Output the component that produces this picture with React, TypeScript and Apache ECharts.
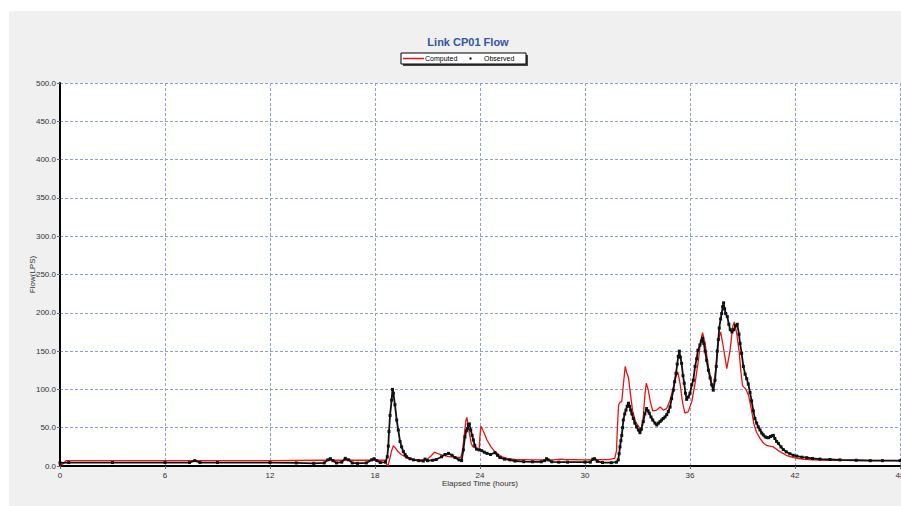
import { useEffect, useRef } from "react";
import * as echarts from "echarts";

const chartTitle = "Link CP01 Flow";
const seriesNames = ["Computed", "Observed"];
const xAxisTitle = "Elapsed Time (hours)";
const yAxisTitle = "Flow(LPS)";
const xRange = [0, 48, 6];
const yRange = [0, 500, 50];

// [elapsed hours, flow LPS]
const computedFlow: number[][] = [
  [0, 1], [0.2, 3], [0.35, 7], [6, 7], [12, 7], [15, 7.5], [18.6, 7.5], [18.65, 3], [18.72, 0], [18.75, 1],
  [18.85, 10], [18.95, 20], [19.05, 26.5], [19.15, 24], [19.3, 19], [19.5, 15], [19.65, 13], [19.8, 10.5], [20.0, 9], [20.3, 8],
  [20.8, 8], [21.0, 9], [21.2, 13], [21.4, 18], [21.6, 16], [21.9, 14], [22.3, 12], [22.6, 11.5], [22.9, 11], [23.0, 20],
  [23.1, 40], [23.2, 60], [23.25, 63.5], [23.3, 56], [23.4, 42], [23.5, 29], [23.6, 25], [23.8, 23], [23.95, 21], [24.0, 40],
  [24.05, 52], [24.2, 45], [24.4, 34], [24.6, 26], [24.8, 20], [25.0, 16], [25.3, 11.5], [25.6, 9.5], [26, 8.5], [27, 8],
  [28.2, 8], [28.6, 9], [28.8, 8.5], [30, 8], [31.4, 8.5], [31.7, 10], [31.8, 20], [31.85, 50], [31.92, 80], [32.0, 83],
  [32.1, 84], [32.2, 108], [32.3, 130], [32.38, 122], [32.48, 116], [32.57, 99], [32.72, 72], [32.9, 57], [33.05, 52], [33.2, 47],
  [33.33, 64], [33.42, 92], [33.5, 108], [33.62, 99], [33.72, 85], [33.87, 72], [34.1, 73], [34.3, 77], [34.47, 73], [34.67, 75],
  [34.86, 86], [35.05, 103], [35.2, 117], [35.3, 123], [35.43, 108], [35.58, 82], [35.71, 69], [35.9, 71], [36.1, 84], [36.29, 108],
  [36.48, 138], [36.61, 164], [36.72, 174], [36.86, 160], [37.05, 130], [37.24, 108], [37.33, 99], [37.49, 130], [37.62, 164], [37.75, 175],
  [37.9, 156], [38.1, 127], [38.29, 151], [38.44, 182], [38.53, 188], [38.67, 173], [38.82, 147], [38.9, 125], [39.0, 105], [39.2, 100],
  [39.35, 92], [39.5, 75], [39.65, 55], [39.8, 44], [40.0, 36], [40.2, 30], [40.4, 26.5], [40.76, 25], [41.14, 18.7], [41.5, 14],
  [41.9, 11], [42.5, 8.7], [43, 8], [44, 7.5], [48, 7]
];

const observedFlow: number[][] = [
  [0, 4], [0.5, 4.5], [3, 4.5], [6, 4.5], [7.4, 4.5], [7.7, 7], [8.0, 4.5], [9, 4.5], [12, 4.5], [13.5, 4],
  [14.5, 3.5], [15.1, 4], [15.3, 8], [15.45, 9.5], [15.6, 7], [15.8, 4], [16.1, 5], [16.3, 10], [16.5, 8], [16.7, 4],
  [17, 3.5], [17.5, 4], [17.8, 8], [17.95, 9.5], [18.1, 7], [18.3, 4.5], [18.6, 5], [18.7, 12], [18.76, 26], [18.8, 45],
  [18.86, 66], [18.95, 86], [19.0, 100], [19.05, 95], [19.14, 80], [19.24, 60], [19.33, 47], [19.43, 32], [19.52, 25], [19.62, 19],
  [19.72, 15], [19.81, 12], [20.0, 9.5], [20.2, 8], [20.5, 7], [20.76, 6.5], [20.86, 9], [21.0, 7], [21.3, 7.5], [21.5, 8.5],
  [21.8, 12], [22.0, 15], [22.2, 16.5], [22.4, 14], [22.57, 11], [22.8, 8], [22.95, 7], [23.05, 21], [23.14, 38], [23.22, 46],
  [23.28, 49], [23.33, 54], [23.39, 55], [23.47, 47], [23.55, 40], [23.62, 34], [23.7, 27], [23.8, 22], [23.95, 21], [24.1, 20],
  [24.25, 18], [24.4, 16.5], [24.6, 15], [24.86, 17.4], [25.0, 14], [25.14, 11], [25.4, 9], [25.7, 8], [26.0, 6.5], [26.5, 5.6],
  [27.0, 5.5], [27.5, 5.5], [27.7, 7], [27.8, 9.5], [27.9, 8], [28.1, 5.5], [28.5, 5], [29, 5], [30, 5], [30.3, 5],
  [30.45, 9], [30.55, 9.5], [30.7, 6], [31, 4.5], [31.5, 4.3], [31.8, 5], [31.9, 8], [31.95, 16], [32.0, 25], [32.05, 33],
  [32.1, 40], [32.15, 50], [32.19, 60], [32.27, 68], [32.34, 73], [32.41, 78], [32.48, 82], [32.55, 78], [32.61, 73], [32.68, 68],
  [32.76, 62], [32.85, 56], [32.95, 51], [33.05, 47], [33.14, 43.5], [33.22, 48], [33.33, 58], [33.42, 68], [33.52, 75], [33.6, 72],
  [33.67, 69], [33.77, 64], [33.87, 60], [34.0, 56], [34.1, 53.5], [34.2, 56], [34.29, 58], [34.38, 60], [34.47, 62], [34.57, 64],
  [34.67, 67], [34.76, 71], [34.86, 77], [34.95, 88], [35.05, 99], [35.12, 110], [35.2, 121], [35.27, 133], [35.33, 143], [35.39, 150],
  [35.45, 142], [35.52, 134], [35.6, 118], [35.67, 108], [35.74, 95], [35.81, 87], [35.9, 90], [36.0, 95], [36.1, 106], [36.19, 112],
  [36.29, 130], [36.38, 140], [36.45, 151], [36.57, 158], [36.65, 163], [36.72, 167], [36.79, 160], [36.86, 150], [36.95, 138], [37.05, 125],
  [37.15, 115], [37.24, 106], [37.33, 99], [37.43, 112], [37.5, 130], [37.56, 150], [37.62, 165], [37.67, 180], [37.75, 192], [37.81, 199],
  [37.87, 208], [37.92, 213], [37.98, 205], [38.04, 199], [38.13, 195], [38.22, 185], [38.3, 178], [38.4, 175], [38.5, 178], [38.6, 183],
  [38.7, 185], [38.8, 172], [38.86, 160], [38.95, 147], [39.05, 130], [39.15, 120], [39.24, 114], [39.33, 107], [39.43, 96], [39.52, 85],
  [39.62, 72], [39.71, 62], [39.81, 56], [39.9, 51], [40.0, 47], [40.1, 43], [40.19, 40.5], [40.3, 38], [40.4, 37], [40.5, 37],
  [40.6, 38.5], [40.7, 39.5], [40.76, 40], [40.85, 36], [40.95, 32], [41.05, 29.5], [41.2, 25], [41.33, 21.5], [41.5, 18.5], [41.71, 16],
  [41.9, 14], [42.1, 13], [42.4, 11.5], [42.67, 10.8], [43.0, 9.8], [43.43, 9], [44.0, 8.5], [44.57, 8], [45.5, 7.5], [46.3, 7],
  [47, 7], [48, 7]
];

const FONT = "'Liberation Sans', Arial, sans-serif";

export default function App() {
  const ref = useRef<HTMLDivElement>(null);
  useEffect(() => {
    document.body.style.margin = "0";
    document.body.style.overflow = "hidden";
    const chart = echarts.init(ref.current!, null, { renderer: "svg", width: 901, height: 506 });
    chart.setOption({
      animation: false,
      backgroundColor: "#ffffff",
      textStyle: { fontFamily: FONT },
      title: {
        text: chartTitle,
        left: 463,
        top: 31,
        textAlign: "center",
        textStyle: { fontSize: 11, fontWeight: "bold", color: "#3653a5", fontFamily: FONT },
      },
      graphic: [
        { type: "rect", z: -10, shape: { x: 9, y: 11, width: 892, height: 495 }, style: { fill: "#eff0ef" }, silent: true },
        { type: "rect", z: 10, shape: { x: 403, y: 55, width: 125, height: 11 }, style: { fill: "#444" } },
        { type: "rect", z: 11, shape: { x: 401, y: 53, width: 125, height: 11 }, style: { fill: "#fff", stroke: "#000", lineWidth: 1 } },
        { type: "line", z: 12, shape: { x1: 403, y1: 58.5, x2: 424, y2: 58.5 }, style: { stroke: "#ee1111", lineWidth: 1.5 } },
        { type: "text", z: 12, x: 425, y: 58.5, style: { text: seriesNames[0], font: `7px ${FONT}`, fill: "#000", verticalAlign: "middle" } },
        { type: "rect", z: 12, shape: { x: 469.5, y: 57.5, width: 2, height: 2 }, style: { fill: "#000" } },
        { type: "text", z: 12, x: 484, y: 58.5, style: { text: seriesNames[1], font: `7px ${FONT}`, fill: "#000", verticalAlign: "middle" } },
      ],
      grid: {
        left: 60, right: 1, top: 83, bottom: 40,
        outerBoundsMode: "none",
        containLabel: false,
        show: true, backgroundColor: "#ffffff", borderWidth: 0,
      },
      xAxis: {
        type: "value",
        min: xRange[0], max: xRange[1], interval: xRange[2],
        name: xAxisTitle,
        nameLocation: "middle",
        nameGap: 13,
        nameMoveOverlap: false,
        nameTextStyle: { fontSize: 8, color: "#333", fontFamily: FONT },
        axisLine: { show: true, onZero: false, lineStyle: { color: "#000", width: 2 } },
        axisTick: { show: true, length: 3, lineStyle: { color: "#666" } },
        axisLabel: { fontSize: 8, color: "#333", margin: 5, fontFamily: FONT, showMaxLabel: true, hideOverlap: false },
        splitLine: { show: true, lineStyle: { color: "#8f9fd4", type: [3, 2], width: 1 } },
      },
      yAxis: {
        type: "value",
        min: yRange[0], max: yRange[1], interval: yRange[2],
        name: yAxisTitle,
        nameLocation: "middle",
        nameGap: 24,
        nameMoveOverlap: false,
        nameTextStyle: { fontSize: 8, color: "#333", fontFamily: FONT },
        axisLine: { show: true, lineStyle: { color: "#000", width: 2 } },
        axisTick: { show: true, length: 3, lineStyle: { color: "#666" } },
        axisLabel: { fontSize: 8, color: "#333", margin: 4, fontFamily: FONT, formatter: (v: number) => v.toFixed(1) },
        splitLine: { show: true, lineStyle: { color: "#8f9fd4", type: [3, 2], width: 1 } },
      },
      series: [
        {
          name: seriesNames[0],
          type: "line",
          data: computedFlow,
          showSymbol: false,
          lineStyle: { color: "#ee1111", width: 1.3 },
          itemStyle: { color: "#ee1111" },
          z: 2,
        },
        {
          name: seriesNames[1],
          type: "line",
          data: observedFlow,
          showSymbol: true,
          showAllSymbol: true,
          symbol: "rect",
          symbolSize: 3,
          lineStyle: { color: "#111", width: 1.8 },
          itemStyle: { color: "#111" },
          z: 3,
        },
      ],
    });
    return () => chart.dispose();
  }, []);
  return <div ref={ref} style={{ position: "fixed", left: 0, top: 0, width: 901, height: 506 }} />;
}
